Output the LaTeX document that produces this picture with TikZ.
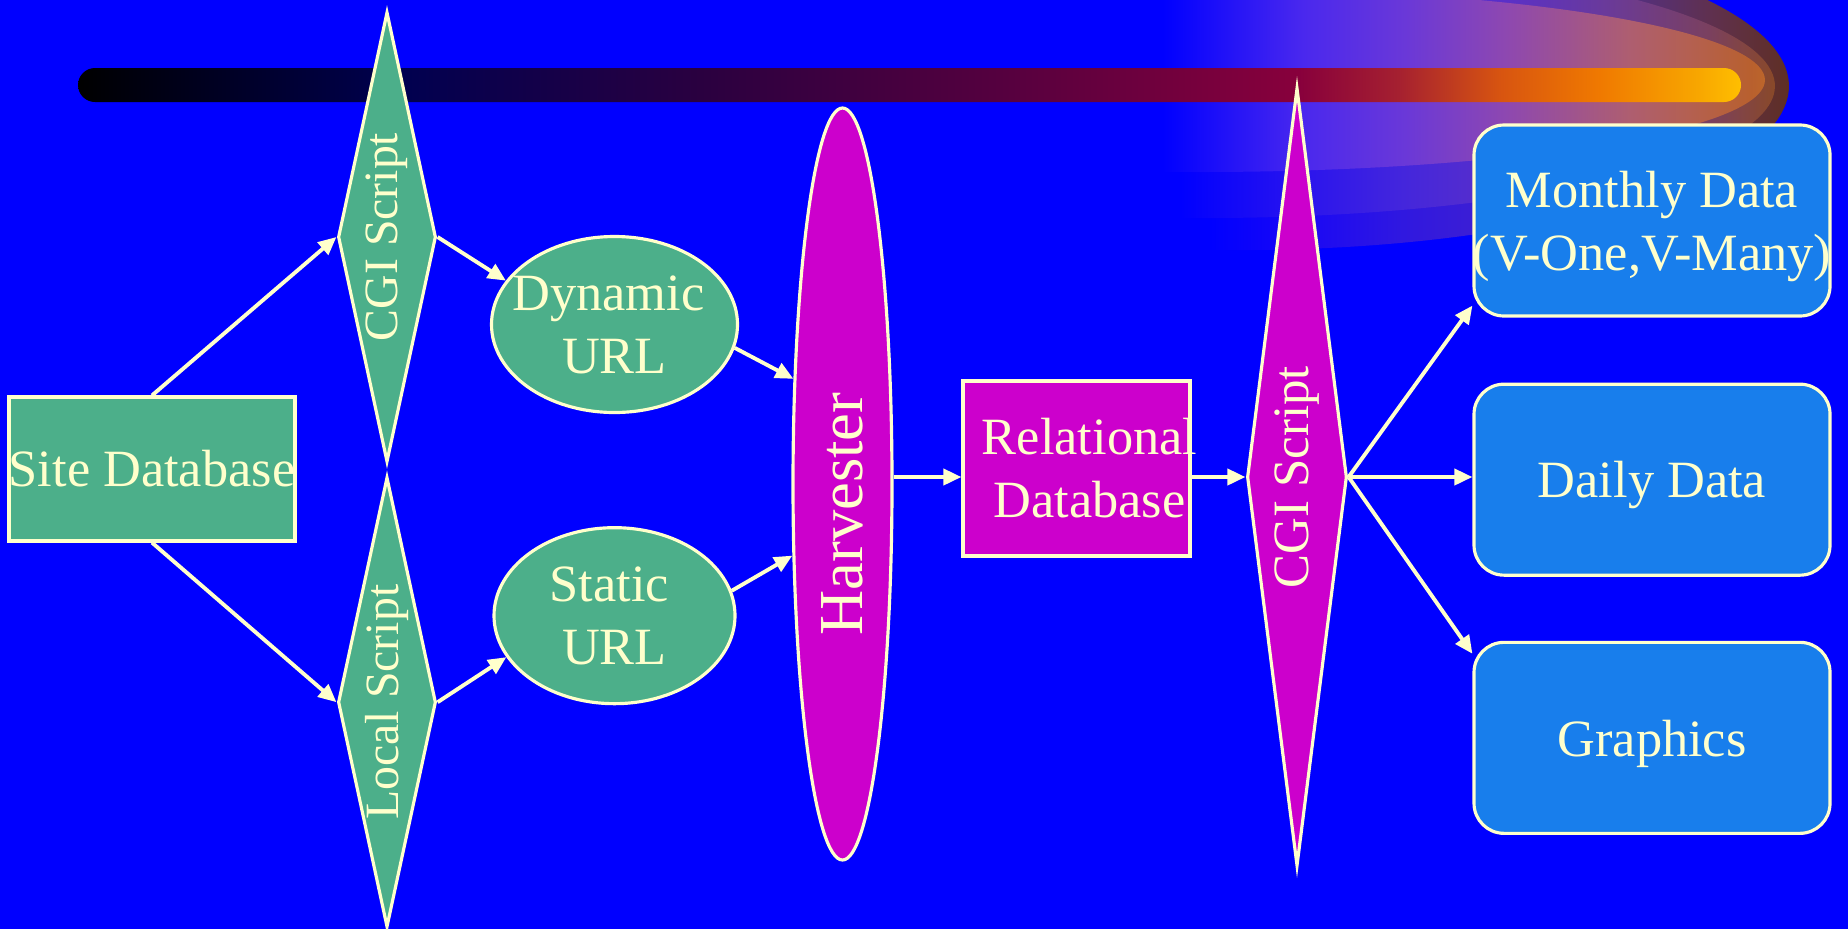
\documentclass[tikz,border=0pt]{standalone}
\usepackage{fontspec}
\setmainfont{Liberation Serif}
\usetikzlibrary{arrows.meta,positioning,shapes.geometric}

\definecolor{slideblue}{HTML}{0000FF}
\definecolor{paleyellow}{HTML}{FFFFCC}
\definecolor{sitegreen}{HTML}{4CAF8A}
\definecolor{harvmagenta}{HTML}{CC00CC}
\definecolor{outblue}{HTML}{187EEC}
% title bar colours
\definecolor{barnavy}{HTML}{000050}
\definecolor{barpurp}{HTML}{2A0040}
\definecolor{barplum}{HTML}{55003F}
\definecolor{barcrim}{HTML}{88003C}
\definecolor{barred}{HTML}{A52030}
\definecolor{barrust}{HTML}{D85510}
\definecolor{barorng}{HTML}{F07A00}
\definecolor{baramber}{HTML}{F8A800}
\definecolor{bargold}{HTML}{FFBF00}
% comet colours
\definecolor{cinA}{HTML}{4A28EE}
\definecolor{cinB}{HTML}{6A38D8}
\definecolor{cinC}{HTML}{8E48B0}
\definecolor{cinD}{HTML}{AE5E70}
\definecolor{cinE}{HTML}{B46050}
\definecolor{cinF}{HTML}{B8602E}
\definecolor{cinG}{HTML}{C06A28}
\definecolor{cmiA}{HTML}{2A14EE}
\definecolor{cmiB}{HTML}{4426DC}
\definecolor{cmiC}{HTML}{5A30C8}
\definecolor{cmiD}{HTML}{6A3A9A}
\definecolor{cmiE}{HTML}{7A4060}
\definecolor{cmiF}{HTML}{8B4A22}
\definecolor{couA}{HTML}{1A08F5}
\definecolor{couB}{HTML}{3018E0}
\definecolor{couC}{HTML}{4020D0}
\definecolor{couD}{HTML}{503090}
\definecolor{couE}{HTML}{5F3050}
\definecolor{couF}{HTML}{5F2F1F}

\pgfdeclarehorizontalshading{barshade}{100bp}{color(0bp)=(black); color(25bp)=(black);
  color(34.7bp)=(barnavy); color(43.7bp)=(barpurp); color(52.7bp)=(barplum);
  color(61.7bp)=(barcrim); color(64.7bp)=(barred); color(67.8bp)=(barrust);
  color(70.8bp)=(barorng); color(73.8bp)=(baramber); color(75bp)=(bargold);
  color(100bp)=(bargold)}
\pgfdeclarehorizontalshading{cometinner}{100bp}{color(0bp)=(slideblue); color(25bp)=(slideblue);
  color(36.4bp)=(cinA); color(44.7bp)=(cinB); color(53bp)=(cinC); color(63bp)=(cinD);
  color(68bp)=(cinE); color(72.9bp)=(cinF); color(75bp)=(cinG); color(100bp)=(cinG)}
\pgfdeclarehorizontalshading{cometmiddle}{100bp}{color(0bp)=(slideblue); color(25bp)=(slideblue);
  color(35.1bp)=(cmiA); color(43.5bp)=(cmiB); color(51.9bp)=(cmiC); color(60.3bp)=(cmiD);
  color(68.7bp)=(cmiE); color(75bp)=(cmiF); color(100bp)=(cmiF)}
\pgfdeclarehorizontalshading{cometouter}{100bp}{color(0bp)=(slideblue); color(25bp)=(slideblue);
  color(32.8bp)=(couA); color(41.4bp)=(couB); color(50bp)=(couC); color(58.7bp)=(couD);
  color(67.3bp)=(couE); color(75bp)=(couF); color(100bp)=(couF)}

\newcommand{\diagfont}{\fontsize{14.9}{17.9}\selectfont}
\newcommand{\harvfont}{\fontsize{17.8}{21}\selectfont}
\newcommand{\scrfont}{\fontsize{13.6}{16}\selectfont}
\newcommand{\bigscrfont}{\fontsize{14.5}{17}\selectfont}

\tikzset{
  shapebase/.style={draw=paleyellow, line width=0.9pt, text=paleyellow,
    font=\diagfont, inner xsep=-0.15cm, inner ysep=0pt, align=center},
  greenbox/.style={shapebase, fill=sitegreen, minimum width=2.86cm, minimum height=1.44cm},
  greenscript/.style={shapebase, fill=sitegreen, diamond, aspect=0.22,
    minimum width=0.98cm, minimum height=4.5cm, font=\scrfont},
  greenurl/.style={shapebase, fill=sitegreen, ellipse, minimum width=2.41cm, minimum height=1.76cm},
  harvshape/.style={shapebase, fill=harvmagenta, ellipse, minimum width=0.99cm,
    minimum height=7.52cm, font=\harvfont},
  magbox/.style={shapebase, fill=harvmagenta, minimum width=2.27cm, minimum height=1.75cm},
  magscript/.style={shapebase, fill=harvmagenta, diamond, aspect=0.13,
    minimum width=1cm, minimum height=7.78cm, font=\bigscrfont},
  outbox/.style={shapebase, fill=outblue, rounded corners=0.3cm,
    minimum width=3.56cm, minimum height=1.91cm, text depth=-0.03cm},
  arrw/.style={-{Triangle[length=0.18cm, width=0.16cm]}, line width=1.1pt, draw=paleyellow},
}

\begin{document}
\begin{tikzpicture}[node distance=0.65cm]
  % slide background, comet and title bar
  \fill[slideblue] (0,0) rectangle (18.48,-9.29);
  \useasboundingbox (0,0) rectangle (18.48,-9.29);
  \shade[shading=cometouter] (12.1,0.778) -- (12.1,-2.498)
    arc[start angle=266.87, end angle=453.13, x radius=5.49, y radius=1.64] -- cycle;
  \shade[shading=cometmiddle] (11.8,0.459) -- (11.8,-2.179)
    arc[start angle=267.49, end angle=452.51, x radius=5.70, y radius=1.32] -- cycle;
  \shade[shading=cometinner] (11.63,0.118) -- (11.63,-1.718)
    arc[start angle=266.25, end angle=453.75, x radius=5.65, y radius=0.92] -- cycle;
  \shade[shading=barshade, rounded corners=0.17cm] (0.78,-0.68) rectangle (17.41,-1.02);

  \node[greenbox] (sitedb) at (1.52,-4.69) {Site Database};
  \node[greenscript] (cgiA) at (3.87,-2.37) {\rotatebox{90}{CGI Script}};
  \node[greenscript, below=0.12cm of cgiA] (localscr) {\rotatebox{90}{Local Script}};

  \node[greenurl] (dyn) at (6.145,-3.245) {Dynamic\hspace*{0.12cm}\\URL};
  \node[greenurl, below=1.12cm of dyn] (static) {Static\hspace*{0.1cm}\\URL};

  \node[harvshape] (harvester) at (8.425,-4.84)
    {\rotatebox{90}{\hspace*{-0.6cm}Harvester}};
  \node[magbox] (reldb) at (10.765,-4.685)
    {\hspace*{0.26cm}Relational\\\hspace*{0.26cm}Database};
  \node[magscript] (cgiB) at (12.97,-4.77) {\rotatebox{90}{CGI Script}};

  \node[outbox] (monthly) at (16.52,-2.205) {Monthly Data\\(V-One,V-Many)};
  \node[outbox, below=of monthly] (daily) {Daily Data};
  \node[outbox, below=0.64cm of daily] (graphics) {Graphics};

  \draw[arrw] (sitedb.north) -- (cgiA.west);
  \draw[arrw] (sitedb.south) -- (localscr.west);
  \draw[arrw] (cgiA.east) -- (dyn.158);
  \draw[arrw] (localscr.east) -- (static.201);
  \draw[arrw] (dyn.-11) -- (harvester.115);
  \draw[arrw] (static.12) -- (harvester.235);
  \draw[arrw] (harvester.east |- cgiB.west) -- (reldb.west |- cgiB.west);
  \draw[arrw] (reldb.east |- cgiB.west) -- (cgiB.west);
  \draw[arrw] (cgiB.east) -- ([yshift=0.12cm]monthly.south west);
  \draw[arrw] (cgiB.east) -- (daily.west |- cgiB.east);
  \draw[arrw] (cgiB.east) -- ([yshift=-0.13cm]graphics.north west);
\end{tikzpicture}
\end{document}
